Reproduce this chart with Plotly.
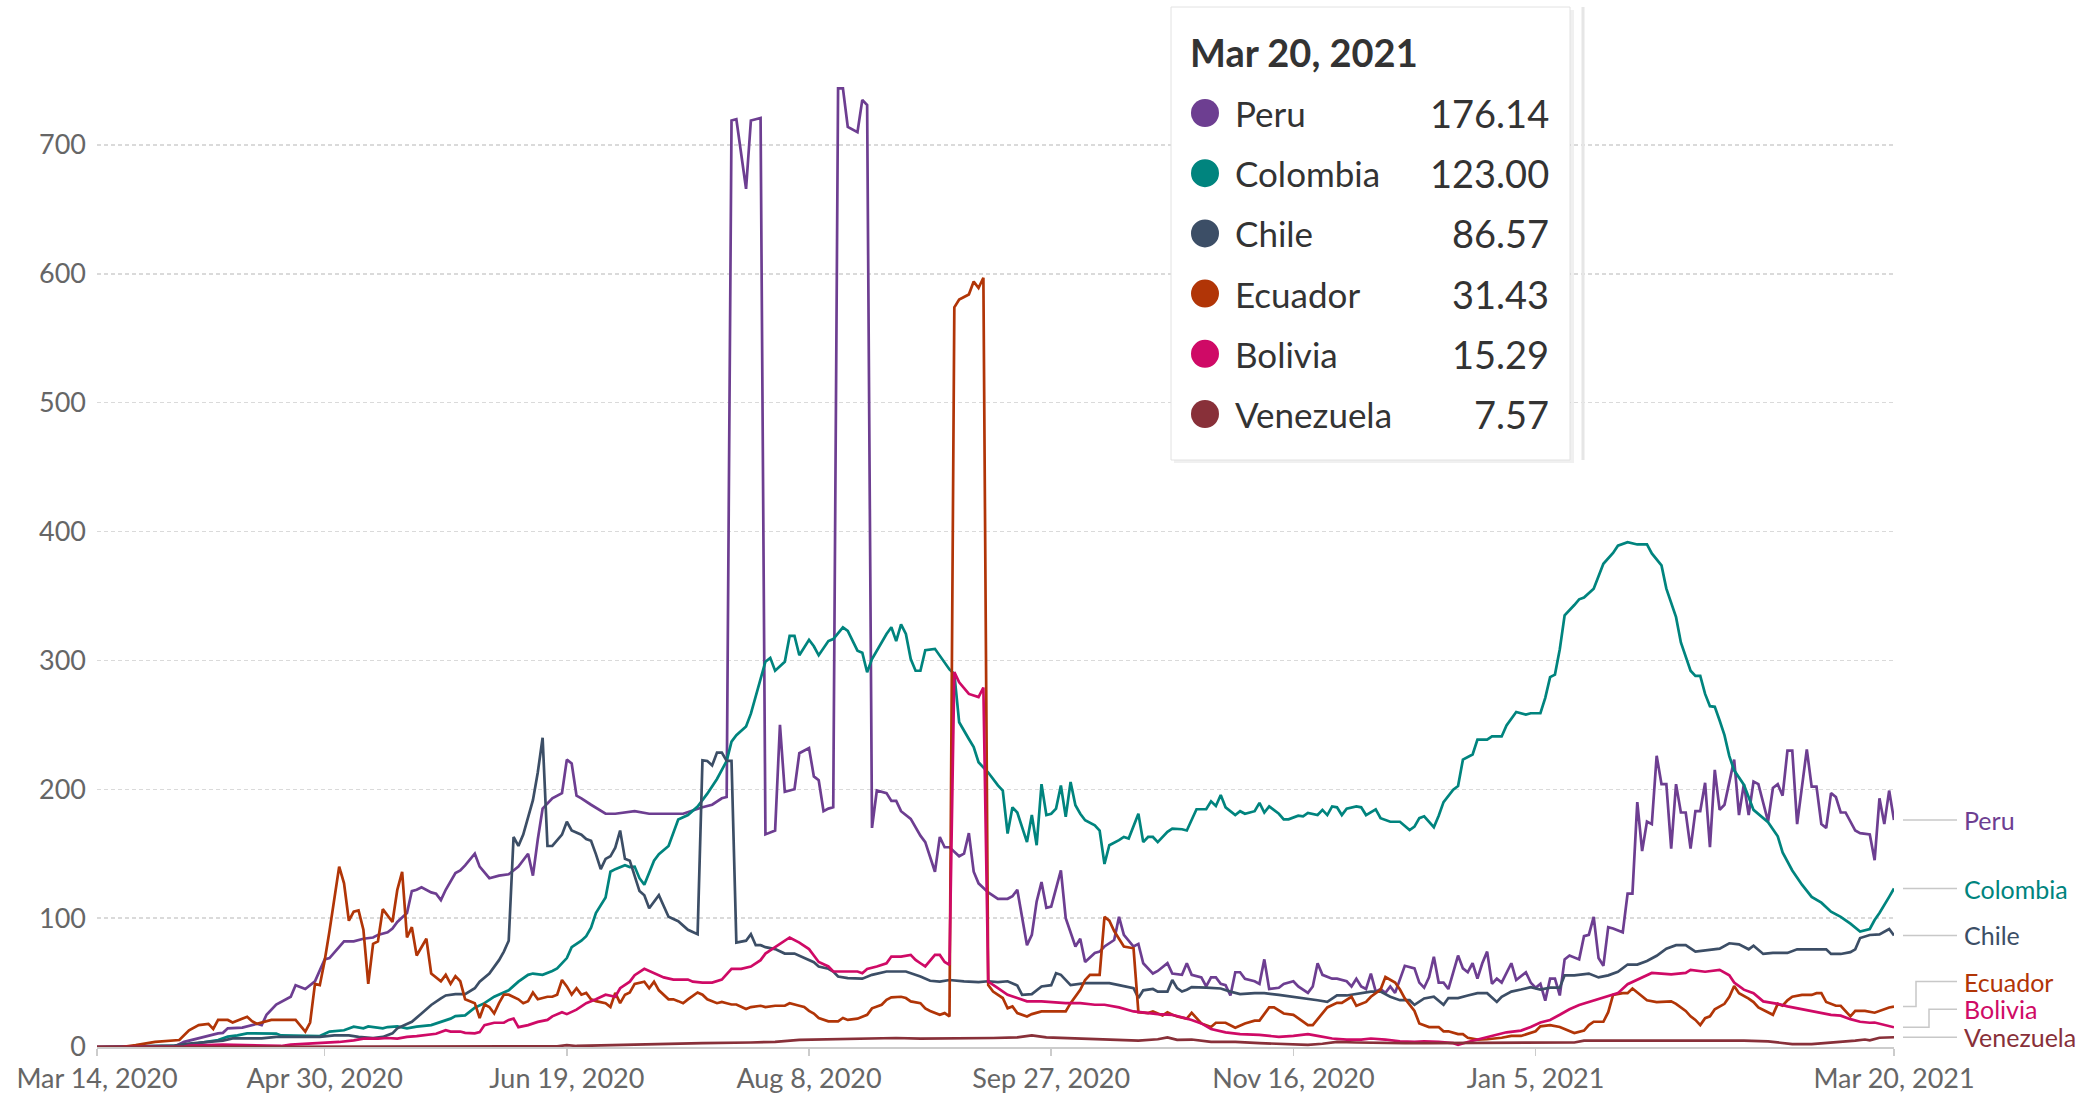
import pandas as pd
import plotly.graph_objects as go

# ---------------- data ----------------
start_date = "2020-03-14"
end_date = "2021-03-20"

tick_dates = ["2020-03-14", "2020-04-30", "2020-06-19", "2020-08-08",
              "2020-09-27", "2020-11-16", "2021-01-05", "2021-03-20"]
tick_labels = ["Mar 14, 2020", "Apr 30, 2020", "Jun 19, 2020", "Aug 8, 2020",
               "Sep 27, 2020", "Nov 16, 2020", "Jan 5, 2021", "Mar 20, 2021"]
y_ticks = [0, 100, 200, 300, 400, 500, 600, 700]

countries = ["Peru", "Colombia", "Chile", "Ecuador", "Bolivia", "Venezuela"]
colors = {"Peru": "#6D3E91", "Colombia": "#00847E", "Chile": "#3C4E66",
          "Ecuador": "#B13507", "Bolivia": "#CF0A66", "Venezuela": "#883039"}

# (days since start_date, value)
peru = [(0,0),(10,0),(16,0.5),(18,4),(22,8),(25,10.6),(26,11),(27,14.5),(30,15),(31,16),(33,18),(34,17),(35,25),(37,33),(38,35),(40,39),(41,48),(43,45),(45,51),(46,60),(47,68),(48,69),(50,78),(51,82),(53,82),(54,83),(55,84),(57,85),(58,87),(60,89),(61,92),(62,97),(64,104),(65,121),(66,122),(67,124),(69,120),(70,119),(71,114),(72,122),(74,135),(75,137),(76,141),(78,150),(79,140),(81,131),(83,133),(85,134),(87,140),(89,150),(90,133),(91,161),(92,185),(94,193),(96,197),(97,223),(98,220),(99,195),(100,193),(102,188),(105,181),(107,181),(111,183),(114,181),(118,181),(121,181),(125,186),(127,188),(129,193),(130,194),(131,719),(132,720),(134,666),(135,719),(136,720),(137,721),(138,165),(140,168),(141,250),(142,198),(144,200),(145,228),(147,232),(148,210),(149,207),(150,183),(151,185),(152,186),(153,744),(154,744),(155,714),(156,712),(157,710),(158,735),(159,731),(160,170),(161,199),(163,197),(164,191),(165,191),(166,183),(168,177),(170,164),(171,159),(173,136),(174,163),(175,155),(176,155),(178,148),(179,150),(180,166),(181,136),(182,127),(184,120),(186,115),(188,115),(189,117),(190,122),(192,79),(193,87),(194,113),(195,128),(196,108),(197,109),(198,123),(199,137),(200,100),(202,78),(203,84),(204,66),(206,73),(207,74),(208,78),(210,83),(211,101),(212,87),(214,78),(215,80),(216,65),(218,57),(219,59),(221,65),(222,57),(224,56),(225,65),(226,56),(228,54),(229,47),(230,54),(231,54),(232,49),(233,48),(234,40),(235,58),(236,58),(237,53),(239,51),(240,49),(241,68),(242,45),(244,46),(245,49),(247,51),(248,47),(250,42),(251,47),(252,65),(253,56),(255,53),(256,53),(258,51),(259,47),(260,53),(261,47),(262,45),(263,57),(264,43),(265,45),(266,42),(267,47),(268,42),(270,63),(272,61),(273,50),(274,46),(275,54),(276,70),(277,50),(278,50),(279,45),(281,71),(282,61),(283,58),(284,65),(285,53),(286,65),(287,74),(288,49),(289,53),(290,50),(292,65),(293,52),(295,58),(296,50),(297,46),(298,49),(299,36),(300,53),(301,53),(302,40),(303,68),(304,71),(306,68),(307,86),(308,87),(309,101),(310,69),(311,63),(312,93),(313,92),(315,89),(316,119),(317,119),(318,190),(319,152),(320,175),(321,173),(322,226),(323,204),(324,204),(325,154),(326,204),(327,182),(328,182),(329,154),(330,183),(331,183),(332,205),(333,155),(334,215),(335,184),(336,188),(338,223),(339,180),(340,204),(341,180),(342,206),(343,204),(345,175),(346,201),(347,204),(348,195),(349,230),(350,230),(351,173),(353,231),(354,202),(355,202),(356,173),(357,170),(358,197),(359,194),(360,182),(361,182),(363,168),(364,166),(366,165),(367,145),(368,193),(369,173),(370,199),(371,176.14)]

colombia = [(0,0),(10,0.3),(15,0.8),(18,1),(21,3),(25,5.4),(27,8),(29,9),(31,10.6),(34,10.4),(37,10.4),(38,9),(40,9),(43,8.5),(46,8.5),(48,12),(51,13),(53,15.8),(55,14.5),(56,16),(59,14.5),(60,15.5),(62,16),(64,14.5),(66,15.8),(69,17),(71,19.6),(73,22),(74,24),(76,24.5),(78,30.5),(80,34),(82,39),(85,44),(87,50.7),(89,56),(90,57),(92,56),(94,59),(95,61),(97,69),(98,77.5),(100,82.5),(101,86),(102,92.6),(103,104),(105,116),(106,136),(107,138),(109,141),(110,139.6),(111,140),(112,131),(113,126),(115,144.6),(116,149.7),(118,156),(119,166),(120,176.5),(122,180),(124,186.6),(126,196.6),(128,208),(130,222),(131,237),(132,242),(134,248.7),(135,258.7),(136,272),(138,299),(139,302),(140,292),(142,299),(143,319),(144,319),(145,304),(147,316),(148,311),(149,304),(151,315),(152,316.6),(154,325.7),(155,323),(157,307.6),(158,306),(159,290.8),(160,301),(162,314),(163,320.5),(164,325.7),(165,315),(166,328),(167,320.5),(168,301),(169,292),(170,292),(171,308),(173,309),(174,303.7),(176,293),(177,289.5),(178,252),(180,239),(181,232.8),(182,221),(184,213),(186,203),(187,199),(188,165.7),(189,186),(190,182),(192,159),(193,180),(194,156.6),(195,204),(196,180),(197,181),(198,185),(199,203),(200,178.6),(201,205.7),(202,187.6),(203,181),(204,176),(206,172),(207,168),(208,142),(209,156.6),(211,160.5),(212,163),(213,161.8),(215,181),(216,159),(217,163),(218,163),(219,159),(221,167),(222,169.5),(224,169),(225,168),(227,184.5),(229,184.5),(230,190.6),(231,187),(232,195.6),(233,186),(235,180),(236,183),(237,181),(239,183),(240,189.5),(241,182),(242,186.7),(244,181),(245,176.7),(246,176.7),(248,179.5),(249,179),(250,181.7),(252,180),(253,184),(254,180),(255,186.7),(256,186),(257,180),(258,185),(260,186.7),(261,186),(262,180),(264,184.5),(265,177.6),(267,174.8),(269,174.8),(271,168.4),(272,171),(273,177.6),(274,179),(276,170.6),(277,179.5),(278,190),(280,199.7),(281,202.5),(282,223),(284,227),(285,238.5),(287,238.5),(288,241),(290,241),(291,249.6),(293,260),(295,258),(296,259),(298,259),(299,271),(300,287),(301,289),(302,308.7),(303,335),(305,343),(306,347.4),(307,348.8),(309,355.7),(310,365.4),(311,375),(313,383.4),(314,389),(316,391.7),(318,390),(320,390),(321,383),(323,373.7),(324,355.7),(326,333.6),(327,314),(329,292),(330,288),(331,288),(332,274),(333,264.5),(334,264),(335,253.4),(336,242),(337,225.7),(338,214.7),(340,203.6),(341,194),(342,184),(345,174.5),(347,163.5),(348,151),(350,137),(352,126),(354,116.5),(356,112),(358,105),(360,101),(362,95.7),(364,89.6),(366,91.6),(367,98.5),(368,104),(370,116.5),(371,123.00)]

chile = [(0,0),(10,0.3),(16,1),(19,2.6),(23,4),(26,5),(28,6.7),(32,6.7),(34,6.7),(37,7.8),(43,7.8),(46,7.8),(49,9),(52,9),(54,7.8),(57,7),(59,7.8),(61,10.6),(62,14.5),(65,19.6),(67,26),(69,32.6),(71,37.7),(72,40),(74,41),(76,41),(78,45.6),(79,50.7),(81,57),(82,62),(83,67.4),(84,74),(85,82.5),(86,163),(87,156),(88,164.8),(89,178),(90,191.6),(91,213),(92,240),(93,156),(94,156),(96,164.8),(97,174.8),(98,168),(100,164.8),(101,161.4),(102,160),(103,149.7),(104,138),(105,146),(106,148),(107,154.7),(108,168),(109,146),(110,144.6),(112,121),(113,117.8),(114,107.7),(116,117.8),(117,109.4),(118,101),(120,97.6),(121,94.3),(122,91),(124,87.6),(125,222.5),(126,222),(127,218.5),(128,228.5),(129,228.5),(130,222),(131,222),(132,81),(134,82.5),(135,87.6),(136,79),(137,79),(138,77.5),(140,76),(142,72.5),(144,72.5),(146,69),(148,65.8),(149,62.4),(151,60.7),(152,58.6),(153,54.7),(155,53.4),(158,53),(160,56),(163,58.6),(165,58.6),(167,58.6),(170,54.7),(172,51.4),(174,50.8),(176,52),(179,51),(182,50.3),(184,51),(186,50.3),(188,51),(190,47.7),(191,40.5),(193,41),(195,47),(197,48),(198,57.3),(199,56),(201,48),(204,49.5),(206,49.5),(209,49.5),(211,48),(214,45.7),(215,38),(216,44),(218,45),(219,43),(221,43),(222,52),(223,45.7),(224,43),(225,44.4),(226,46.5),(229,46),(232,45.4),(234,43),(236,41),(239,41.8),(241,41.8),(244,40.4),(247,39),(250,37.7),(252,36.3),(254,35),(256,40),(258,40),(261,41.8),(263,43),(265,43),(267,39),(269,36.3),(271,36.3),(272,32.7),(274,37.7),(276,39),(278,32.7),(279,38),(281,38),(283,40),(285,41.8),(287,41.8),(289,35),(290,39),(292,43),(294,44.6),(296,46.5),(298,44.6),(300,46),(302,46),(303,55.6),(305,55.6),(308,57),(310,54),(312,55.6),(314,58.4),(316,64),(318,64),(320,66.7),(322,70.8),(324,76.3),(326,79),(328,79),(330,74),(332,75),(335,76.3),(337,80.5),(339,79.7),(341,75.8),(342,78.6),(344,72.2),(346,73),(349,73),(351,75.8),(353,75.8),(355,75.8),(357,75.8),(358,72.2),(360,72.2),(362,73.6),(363,75.8),(364,84.6),(366,86.9),(368,87.4),(370,91.6),(371,86.57)]

ecuador = [(0,0),(5,0),(8,1.5),(12,4),(17,5.4),(19,13),(21,17),(23,18),(24,14),(25,21),(27,21),(28,19),(31,23.5),(32,20),(33,18),(35,20),(36,21),(41,21),(43,12),(44,19),(45,49),(46,48),(47,67),(48,90),(49,114),(50,140),(51,127),(52,98),(53,105),(54,106),(55,91),(56,49),(57,80),(58,82),(59,107),(61,97),(62,122),(63,136),(64,85),(65,93),(66,71),(68,84),(69,57),(71,51),(72,56),(73,49),(74,55),(75,51),(76,37),(78,34),(79,22.5),(80,33),(81,31),(82,26),(83,34),(84,40.6),(85,40.6),(87,37),(88,34),(89,35.6),(90,42.3),(91,37),(93,39),(94,39),(95,40.6),(96,52),(97,47),(98,40.6),(99,45.6),(100,40.6),(101,42),(102,37),(103,35.6),(105,34),(106,31),(107,42),(108,34),(109,40.6),(110,42.3),(111,49),(113,50.7),(114,45.6),(115,50.7),(116,44),(118,37),(119,37),(120,35.6),(121,34),(122,37),(124,42.3),(125,40.6),(126,37),(128,34),(129,35),(130,34),(131,33),(132,33),(134,29.5),(135,31),(137,32),(138,31),(140,32),(142,32),(143,34),(145,32),(146,31),(147,28),(148,26),(149,22.5),(151,19.9),(153,19.9),(154,22.5),(155,21),(157,22),(159,25),(160,30),(162,32.8),(163,36.6),(164,38.5),(166,39),(167,38),(168,35.4),(170,34),(171,30),(172,28),(174,25),(175,26.3),(176,23.7),(177,574),(178,580),(180,584),(181,594),(182,589),(183,597),(184,48),(185,43),(187,38),(188,30),(189,31.5),(190,26.3),(192,23.7),(193,25.5),(195,27.6),(197,27.6),(200,27.6),(201,34),(203,44.4),(204,52),(205,56),(207,56),(208,101),(209,98),(210,90),(211,84),(212,78),(214,76.6),(215,27),(217,26.3),(218,27.6),(220,24.5),(221,27),(222,25),(223,23.7),(225,22),(226,26.6),(228,18.3),(230,15.5),(231,18.8),(233,18.8),(235,15),(237,18.3),(239,20.5),(240,20.5),(242,30.7),(243,30.7),(245,26),(247,25),(249,19.7),(250,17),(251,17),(253,26.6),(254,30.7),(256,34.3),(257,34.3),(259,39),(260,32),(262,35),(263,39),(265,44.6),(266,54.3),(268,50),(269,44.6),(270,37.7),(272,28),(273,18.3),(275,15.5),(277,15.5),(278,12.2),(279,12.2),(281,10),(282,10),(283,7.2),(285,5.8),(287,6),(290,7.2),(292,8.6),(294,8.6),(295,10),(297,12.2),(298,16),(300,17),(302,15.5),(304,12.2),(305,10.8),(307,12.7),(308,17),(309,19.6),(311,19.6),(312,27),(313,40.4),(315,41.8),(316,41.8),(317,45.4),(319,39),(320,36.2),(322,34.9),(323,34.9),(325,35.4),(326,33.5),(328,28),(329,23.8),(330,21),(331,17),(332,22.4),(333,23.8),(334,29.3),(336,33.5),(337,39),(338,47.3),(339,41.8),(341,37.6),(342,34.9),(343,30.7),(345,26.6),(346,25),(347,33.5),(348,32),(349,36.2),(350,39),(352,40.4),(354,40.4),(355,41.8),(356,41.8),(357,34.9),(359,32),(360,32),(361,28),(362,23.8),(363,28),(365,28),(367,26.6),(368,28),(370,30.7),(371,31.43)]

bolivia = [(0,0),(18,0.3),(19,1),(26,1.8),(35,1),(38,0.8),(40,1.8),(44,2.6),(47,3.4),(50,3.9),(53,5.2),(55,6.5),(58,6.5),(60,7),(62,6.5),(64,7.8),(66,8.5),(68,9.6),(70,10.3),(72,13),(73,12),(75,12),(76,11),(78,10.6),(79,11.5),(80,17),(82,18.8),(84,18.8),(85,21),(86,22),(87,15.4),(89,17),(91,19.5),(93,21),(94,23.8),(96,27),(97,25.5),(99,29),(101,34),(103,37),(105,40.6),(107,39),(108,45.6),(110,50.7),(111,55.7),(113,60.7),(115,57.4),(117,54),(119,52.3),(120,52.3),(122,52.3),(123,50.7),(125,50),(127,50),(129,52.3),(131,60.7),(133,60.7),(135,62.4),(137,67.4),(138,72.5),(140,77.5),(142,82.5),(143,85),(145,81),(147,76),(148,71),(149,66),(151,62.5),(152,58.6),(155,58.6),(157,58.6),(158,57.3),(159,60.6),(161,62.5),(163,65),(164,70.2),(166,70.2),(168,71.5),(169,67.6),(170,65),(171,62.5),(173,71.5),(174,71.5),(175,66),(176,63.7),(177,291),(178,283),(180,274),(181,272.8),(182,271.5),(183,279),(184,50.8),(186,45.7),(188,40.5),(190,38),(192,35.4),(195,35.4),(197,35),(200,34),(203,34),(206,32.8),(208,32.8),(211,30.7),(214,27.6),(217,26.3),(219,25.5),(222,25),(224,23),(226,21),(228,18.3),(230,14),(233,11.4),(236,10),(240,9.4),(244,7.8),(247,8.6),(250,10),(252,8.6),(255,6.6),(258,5.8),(261,5.8),(263,6.6),(266,5.8),(269,4.4),(272,4),(274,4.4),(277,4),(280,3),(281,1.7),(283,3.9),(285,5.8),(288,8.6),(291,11.4),(294,12.7),(296,15.5),(298,19),(300,21),(302,25),(304,29.3),(306,32.6),(308,34.9),(310,37.6),(312,39.8),(314,41.8),(316,48.7),(319,54.2),(321,57.5),(323,57),(325,56.4),(328,57.5),(329,59.8),(332,58.4),(334,59.2),(335,59.8),(337,55.6),(338,50),(340,44.5),(342,41.8),(344,35.4),(347,33.5),(349,31.5),(352,29.3),(355,27),(358,25),(360,24.3),(362,21.6),(364,19.6),(366,18.8),(367,19),(369,16.9),(371,15.29)]

venezuela = [(0,0),(60,0.2),(95,0.5),(97,1.5),(99,0.8),(104,1.2),(110,1.8),(115,2.2),(125,3),(135,3.5),(140,4),(145,5.5),(150,6),(155,6),(160,6.5),(165,7),(170,6.5),(175,6.5),(180,7),(185,7),(190,7.5),(193,9),(196,7.5),(200,7),(205,6),(210,5.5),(215,5),(219,6),(221,7.5),(223,5.5),(226,5.8),(230,4),(235,3.9),(240,3),(245,2.5),(250,1.7),(253,2.5),(256,3.9),(260,3.5),(265,3),(270,3),(275,3),(280,3),(285,3),(290,3),(295,3),(300,3),(305,3.5),(307,5),(315,5),(320,5),(325,5),(330,5),(335,5),(340,5),(345,4.4),(348,3),(350,2.2),(354,2.2),(357,3),(360,4),(363,5),(365,5.8),(366,5.2),(368,7.2),(370,7.5),(371,7.57)]

series = {"Peru": peru, "Colombia": colombia, "Chile": chile,
          "Ecuador": ecuador, "Bolivia": bolivia, "Venezuela": venezuela}

tooltip_title = "Mar 20, 2021"

# ---------------- layout constants ----------------
W, H = 2092, 1094
ML, MR, MT, MB = 97, 198, 87, 47
PW, PH = W - ML - MR, H - MT - MB
Y_MAX = 745
FONT = "Lato, 'Open Sans', sans-serif"

def px_x(px):
    return (px - ML) / PW

def px_y(py):
    return (H - MB - py) / PH

label_nudge_px = {"Peru": 0, "Colombia": 0, "Chile": 0,
                  "Ecuador": 25, "Bolivia": 18, "Venezuela": 0}
elbow_px = {"Peru": None, "Colombia": None, "Chile": None,
            "Ecuador": 1916, "Bolivia": 1929, "Venezuela": 1943}

start = pd.Timestamp(start_date)

fig = go.Figure()
for name in countries:
    pts = series[name]
    dates = [start + pd.Timedelta(days=d) for d, _ in pts]
    vals = [v for _, v in pts]
    fig.add_trace(go.Scatter(
        x=dates, y=vals, mode="lines", name=name,
        line=dict(color=colors[name], width=2.7),
        hoverinfo="skip", showlegend=False))

shapes = []
annotations = []

# right-hand labels with connector lines
ppu = PH / Y_MAX
for name in countries:
    last = series[name][-1][1]
    nudge = label_nudge_px[name]
    y_line = last / Y_MAX
    y_lab = (last + nudge / ppu) / Y_MAX
    x0 = px_x(1903)
    x1 = px_x(1957)
    xe = px_x(elbow_px[name]) if elbow_px[name] else px_x(1930)
    path = f"M {x0},{y_line} L {xe},{y_line} L {xe},{y_lab} L {x1},{y_lab}"
    shapes.append(dict(type="path", path=path, xref="paper", yref="paper",
                       line=dict(color="#c8c8c8", width=1.5), layer="above"))
    annotations.append(dict(
        x=1, xref="paper", xshift=1962 - (W - MR), xanchor="left",
        y=last, yref="y", yshift=nudge, yanchor="middle",
        text=name, showarrow=False,
        font=dict(family=FONT, size=25, color=colors[name])))

# tooltip box
shapes.append(dict(type="rect", xref="paper", yref="paper",
                   x0=px_x(1174), x1=px_x(1574), y0=px_y(463), y1=px_y(10),
                   fillcolor="rgba(0,0,0,0.06)", line=dict(width=0), layer="above"))
shapes.append(dict(type="line", xref="paper", yref="paper",
                   x0=px_x(1583), x1=px_x(1583), y0=px_y(460), y1=px_y(7),
                   line=dict(color="#e6e6e6", width=3), layer="above"))
shapes.append(dict(type="rect", xref="paper", yref="paper",
                   x0=px_x(1171), x1=px_x(1570), y0=px_y(460), y1=px_y(7),
                   fillcolor="white", line=dict(color="#e2e2e2", width=1), layer="above"))

annotations.append(dict(
    x=px_x(1188), y=px_y(52), xref="paper", yref="paper",
    xanchor="left", yanchor="middle", showarrow=False,
    text=f"<b>{tooltip_title}</b>",
    font=dict(family=FONT, size=38, color="#333333")))

for i, name in enumerate(countries):
    row_y = 113 + i * 60.2
    last = series[name][-1][1]
    shapes.append(dict(type="circle", xref="paper", yref="paper",
                       xsizemode="pixel", ysizemode="pixel",
                       xanchor=px_x(1205), yanchor=px_y(row_y),
                       x0=-14, x1=14, y0=-14, y1=14,
                       fillcolor=colors[name], line=dict(width=0), layer="above"))
    annotations.append(dict(
        x=px_x(1233), y=px_y(row_y), xref="paper", yref="paper",
        xanchor="left", yanchor="middle", showarrow=False,
        text=name, font=dict(family=FONT, size=35, color="#333333")))
    annotations.append(dict(
        x=px_x(1551), y=px_y(row_y), xref="paper", yref="paper",
        xanchor="right", yanchor="middle", showarrow=False,
        text=f"{last:.2f}", font=dict(family=FONT, size=38, color="#333333")))

fig.update_layout(
    width=W, height=H,
    margin=dict(l=ML, r=MR, t=MT, b=MB, autoexpand=False),
    paper_bgcolor="white", plot_bgcolor="white",
    font=dict(family=FONT, color="#666666"),
    showlegend=False,
    shapes=shapes, annotations=annotations,
    xaxis=dict(
        range=[start_date, end_date],
        tickvals=tick_dates, ticktext=tick_labels,
        tickfont=dict(family=FONT, size=27, color="#666666"),
        showgrid=False, zeroline=False,
        showline=True, linecolor="#cccccc", linewidth=2,
        ticks="outside", ticklen=7, tickwidth=1.5, tickcolor="#cccccc",
    ),
    yaxis=dict(
        range=[0, Y_MAX],
        tickvals=y_ticks,
        tickfont=dict(family=FONT, size=27, color="#666666"),
        showgrid=True, gridcolor="#dadada", gridwidth=1.5, griddash="4px,3px",
        zeroline=False, showline=False, ticks="", ticklabelstandoff=10,
    ),
)

fig.write_html("out.html",
               config={"displayModeBar": False, "staticPlot": True},
               post_script="document.body.style.margin='0px';document.body.style.overflow='hidden';")
